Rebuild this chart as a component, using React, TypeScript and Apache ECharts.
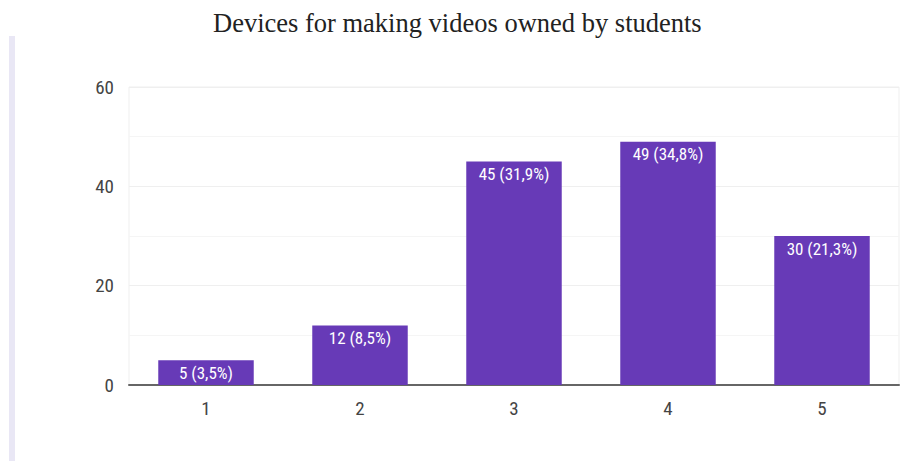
import React, { useEffect, useRef } from "react";
import * as echarts from "echarts";

const titleText = "Devices for making videos owned by students";
const categories = ["1", "2", "3", "4", "5"];
const counts = [5, 12, 45, 49, 30];
const percents = ["3,5", "8,5", "31,9", "34,8", "21,3"];

const narrow = "'Liberation Sans Narrow', 'Roboto Condensed', 'DejaVu Sans Condensed', 'Arial Narrow', sans-serif";

export default function App() {
  const ref = useRef<HTMLDivElement>(null);
  useEffect(() => {
    if (!ref.current) return;
    const chart = echarts.init(ref.current, null, { renderer: "svg" });
    chart.setOption({
      animation: false,
      backgroundColor: "#ffffff",
      title: {
        text: titleText,
        left: 213,
        top: 9,
        padding: 0,
        textStyle: {
          fontFamily: "'Liberation Serif', 'Times New Roman', serif",
          fontSize: 26.5,
          fontWeight: "normal",
          color: "#222222",
        },
      },
      graphic: [
        {
          type: "rect",
          left: 9,
          top: 36,
          shape: { width: 6, height: 425 },
          style: { fill: "#e9e7f5" },
          silent: true,
        },
      ],
      grid: {
        left: 129,
        right: 2,
        top: 87,
        bottom: 76,
        show: true,
        borderColor: "#efefef",
        borderWidth: 1,
      },
      xAxis: {
        type: "category",
        data: categories,
        axisLine: { show: true, lineStyle: { color: "#666666", width: 2 } },
        axisTick: { show: false },
        axisLabel: {
          color: "#444444",
          fontFamily: narrow,
          fontSize: 19,
          margin: 14,
        },
      },
      yAxis: {
        type: "value",
        min: 0,
        max: 60,
        interval: 20,
        axisLine: { show: false },
        axisTick: { show: false },
        axisLabel: {
          color: "#444444",
          fontFamily: narrow,
          fontSize: 19,
          margin: 15,
        },
        splitLine: { show: true, lineStyle: { color: "#efefef", width: 1 } },
        minorTick: { show: false, splitNumber: 2 },
        minorSplitLine: { show: true, lineStyle: { color: "#f5f5f5", width: 1 } },
      },
      series: [
        {
          type: "bar",
          data: counts,
          barWidth: "62%",
          itemStyle: { color: "#673ab7" },
          label: {
            show: true,
            position: "insideTop",
            distance: 4,
            color: "#ffffff",
            fontFamily: narrow,
            fontSize: 17,
            formatter: (p: any) => `${counts[p.dataIndex]} (${percents[p.dataIndex]}%)`,
          },
        },
      ],
    });
    return () => chart.dispose();
  }, []);
  return (
    <div
      ref={ref}
      style={{ position: "fixed", left: 0, top: 0, width: 901, height: 461 }}
    />
  );
}
